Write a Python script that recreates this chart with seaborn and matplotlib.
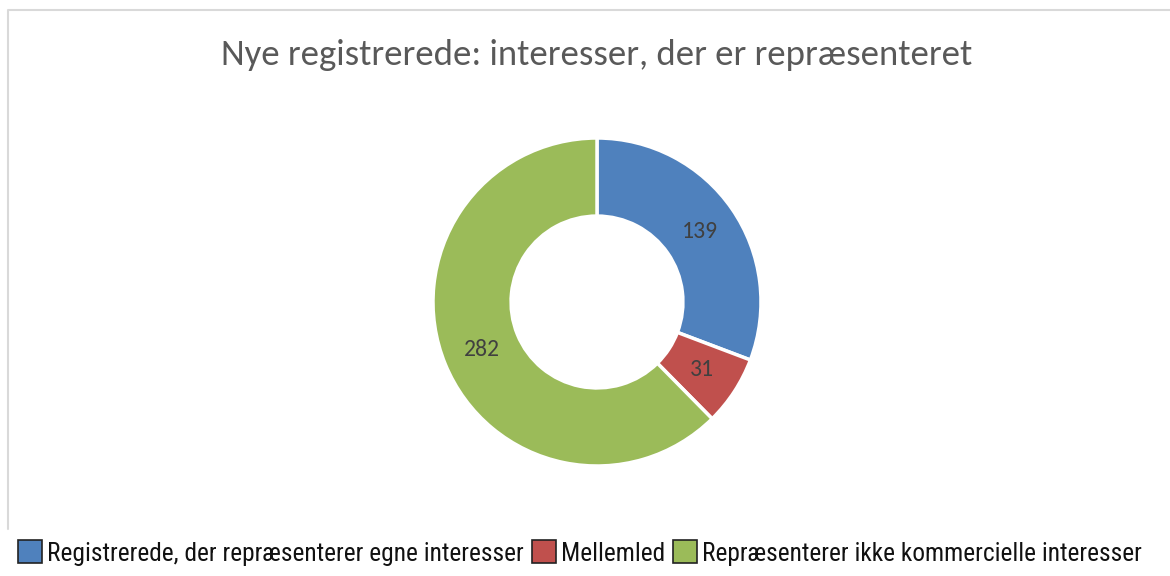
import matplotlib
matplotlib.use("Agg")
import matplotlib.pyplot as plt
import seaborn as sns
from matplotlib import font_manager
from matplotlib.patches import Patch
from matplotlib.lines import Line2D

sns.set_theme(style="white")

categories = ["Registrerede, der repræsenterer egne interesser", "Mellemled",
              "Repræsenterer ikke kommercielle interesser"]
values = [139, 31, 282]
colors = ["#4F81BD", "#C0504D", "#9BBB59"]
title = "Nye registrerede: interesser, der er repræsenteret"

avail = {f.name for f in font_manager.fontManager.ttflist}
def pick(cands):
    for c in cands:
        if c in avail:
            return c
    return "DejaVu Sans"
narrow = pick(["Liberation Sans Narrow", "DejaVu Sans Condensed", "Roboto Condensed", "Open Sans Condensed"])
main = pick(["Carlito", "Open Sans", "Lato", "DejaVu Sans"])
plt.rcParams["font.family"] = [main, "DejaVu Sans"]

W, H = 1170, 576
fig = plt.figure(figsize=(W / 100, H / 100), dpi=100)
fig.patch.set_facecolor("white")

cx, cy, R = 597, 302, 164
ax = fig.add_axes([(cx - R) / W, (H - cy - R) / H, 2 * R / W, 2 * R / H])
wedges, texts = ax.pie(values, colors=colors, startangle=90, counterclock=False,
                       radius=1.0, labels=[str(v) for v in values], labeldistance=0.76,
                       wedgeprops=dict(width=0.476, edgecolor="white", linewidth=2.5),
                       textprops=dict(color="#404040", fontsize=17))
for t in texts:
    t.set_ha("center"); t.set_va("center")
ax.set_xlim(-1, 1); ax.set_ylim(-1, 1)
ax.set_aspect("equal")
ax.axis("off")

fig.text(597 / W, 1 - 55 / H, title, ha="center", va="center", fontsize=26.5, color="#595959")

# chart area border
fig.add_artist(Line2D([8 / W, 8 / W, 1.0], [1 - 529 / H, 1 - 10 / H, 1 - 10 / H],
                      transform=fig.transFigure, color="#D9D9D9", linewidth=1.5))

handles = [Patch(facecolor=c, edgecolor="#222222", linewidth=1.2) for c in colors]
leg = fig.legend(handles, categories, loc="center left", bbox_to_anchor=(18 / W, 1 - 553 / H),
                 ncol=3, frameon=False, handlelength=0.95, handleheight=1.0,
                 handletextpad=0.2, columnspacing=0.3, borderaxespad=0, borderpad=0,
                 prop=dict(family=narrow, size=18.3))
for t in leg.get_texts():
    t.set_color("#111111")

fig.savefig("out.png", dpi=100, facecolor="white")
